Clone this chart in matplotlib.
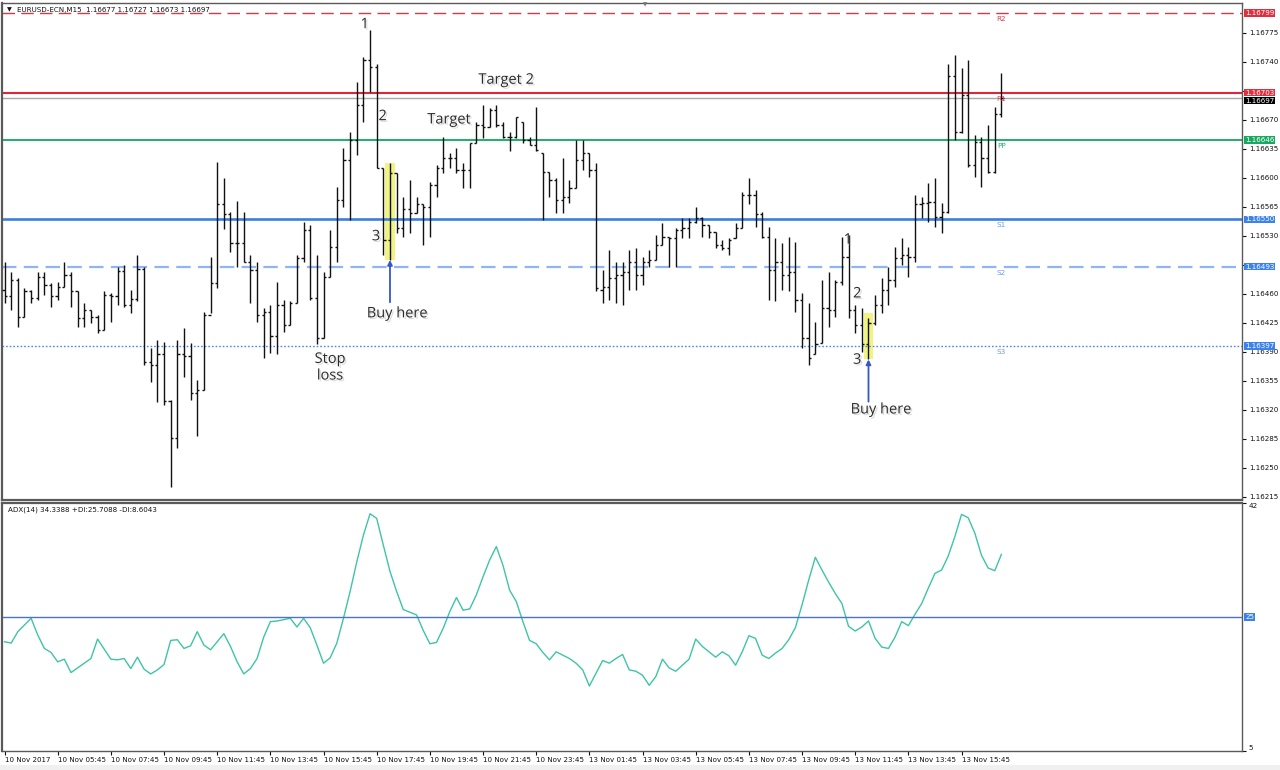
import numpy as np
import matplotlib.pyplot as plt
import matplotlib.patheffects as pe
from matplotlib.patches import Rectangle

# EURUSD M15 bars (10 Nov 2017 03:45 .. 13 Nov 17:15)
bar_open = [
    1.16465, 1.16457, 1.16477, 1.16432, 1.16463, 1.16455, 1.16481, 1.16471, 1.16458, 1.16469,
    1.16483, 1.16463, 1.16431, 1.16441, 1.16432, 1.16417, 1.16459, 1.16458, 1.16488, 1.16447,
    1.16454, 1.16490, 1.16378, 1.16374, 1.16387, 1.16331, 1.16286, 1.16387, 1.16385, 1.16341,
    1.16344, 1.16435, 1.16473, 1.16568, 1.16556, 1.16522, 1.16522, 1.16499, 1.16489, 1.16435,
    1.16438, 1.16409, 1.16447, 1.16423, 1.16449, 1.16504, 1.16537, 1.16455, 1.16407, 1.16481,
    1.16517, 1.16574, 1.16622, 1.16646, 1.16688, 1.16743, 1.16734, 1.16612, 1.16525, 1.16606,
    1.16540, 1.16562, 1.16558, 1.16568, 1.16565, 1.16592, 1.16612, 1.16624, 1.16624, 1.16610,
    1.16610, 1.16642, 1.16664, 1.16662, 1.16682, 1.16664, 1.16650, 1.16650, 1.16668, 1.16646,
    1.16640, 1.16630, 1.16607, 1.16598, 1.16574, 1.16577, 1.16588, 1.16622, 1.16630, 1.16610,
    1.16465, 1.16469, 1.16479, 1.16483, 1.16487, 1.16499, 1.16483, 1.16499, 1.16501, 1.16519,
    1.16529, 1.16528, 1.16537, 1.16540, 1.16547, 1.16552, 1.16543, 1.16535, 1.16519, 1.16516,
    1.16528, 1.16540, 1.16580, 1.16580, 1.16556, 1.16529, 1.16489, 1.16499, 1.16483, 1.16487,
    1.16453, 1.16407, 1.16387, 1.16401, 1.16443, 1.16441, 1.16475, 1.16505, 1.16441, 1.16423,
    1.16399, 1.16425, 1.16447, 1.16465, 1.16477, 1.16504, 1.16507, 1.16505, 1.16568, 1.16570,
    1.16571, 1.16553, 1.16559, 1.16723, 1.16656, 1.16700, 1.16616, 1.16644, 1.16624, 1.16607,
    1.16677,
]
bar_high = [
    1.16498, 1.16486, 1.16479, 1.16467, 1.16465, 1.16486, 1.16487, 1.16473, 1.16475, 1.16498,
    1.16486, 1.16463, 1.16449, 1.16441, 1.16435, 1.16463, 1.16461, 1.16493, 1.16495, 1.16465,
    1.16507, 1.16492, 1.16395, 1.16405, 1.16402, 1.16332, 1.16405, 1.16419, 1.16401, 1.16356,
    1.16438, 1.16505, 1.16619, 1.16600, 1.16559, 1.16572, 1.16559, 1.16507, 1.16498, 1.16443,
    1.16447, 1.16475, 1.16453, 1.16451, 1.16507, 1.16547, 1.16543, 1.16507, 1.16487, 1.16537,
    1.16589, 1.16636, 1.16656, 1.16716, 1.16746, 1.16779, 1.16737, 1.16612, 1.16618, 1.16606,
    1.16577, 1.16598, 1.16577, 1.16568, 1.16595, 1.16616, 1.16650, 1.16630, 1.16636, 1.16618,
    1.16642, 1.16667, 1.16688, 1.16685, 1.16688, 1.16668, 1.16656, 1.16674, 1.16668, 1.16650,
    1.16686, 1.16630, 1.16607, 1.16600, 1.16624, 1.16598, 1.16646, 1.16646, 1.16630, 1.16618,
    1.16489, 1.16513, 1.16498, 1.16499, 1.16513, 1.16516, 1.16505, 1.16513, 1.16531, 1.16546,
    1.16529, 1.16540, 1.16552, 1.16552, 1.16565, 1.16553, 1.16543, 1.16535, 1.16525, 1.16528,
    1.16546, 1.16583, 1.16600, 1.16586, 1.16559, 1.16541, 1.16528, 1.16522, 1.16529, 1.16523,
    1.16461, 1.16449, 1.16426, 1.16477, 1.16487, 1.16477, 1.16529, 1.16531, 1.16447, 1.16443,
    1.16431, 1.16459, 1.16479, 1.16492, 1.16517, 1.16528, 1.16517, 1.16580, 1.16577, 1.16594,
    1.16600, 1.16570, 1.16737, 1.16749, 1.16733, 1.16743, 1.16652, 1.16650, 1.16664, 1.16686,
    1.16727,
]
bar_low = [
    1.16449, 1.16441, 1.16420, 1.16432, 1.16449, 1.16453, 1.16459, 1.16444, 1.16453, 1.16469,
    1.16444, 1.16420, 1.16420, 1.16425, 1.16413, 1.16417, 1.16426, 1.16447, 1.16444, 1.16437,
    1.16451, 1.16374, 1.16354, 1.16330, 1.16326, 1.16227, 1.16274, 1.16360, 1.16332, 1.16288,
    1.16344, 1.16437, 1.16467, 1.16539, 1.16511, 1.16492, 1.16499, 1.16449, 1.16426, 1.16383,
    1.16389, 1.16387, 1.16414, 1.16423, 1.16449, 1.16498, 1.16453, 1.16399, 1.16407, 1.16481,
    1.16499, 1.16565, 1.16549, 1.16628, 1.16667, 1.16704, 1.16612, 1.16507, 1.16501, 1.16534,
    1.16529, 1.16534, 1.16558, 1.16519, 1.16529, 1.16577, 1.16606, 1.16612, 1.16606, 1.16588,
    1.16588, 1.16642, 1.16648, 1.16662, 1.16662, 1.16648, 1.16632, 1.16648, 1.16642, 1.16640,
    1.16632, 1.16549, 1.16577, 1.16558, 1.16558, 1.16570, 1.16588, 1.16610, 1.16601, 1.16463,
    1.16449, 1.16453, 1.16449, 1.16447, 1.16465, 1.16465, 1.16471, 1.16493, 1.16501, 1.16519,
    1.16493, 1.16492, 1.16528, 1.16528, 1.16546, 1.16529, 1.16528, 1.16516, 1.16513, 1.16507,
    1.16528, 1.16540, 1.16568, 1.16541, 1.16528, 1.16453, 1.16451, 1.16465, 1.16463, 1.16438,
    1.16395, 1.16374, 1.16387, 1.16401, 1.16420, 1.16432, 1.16471, 1.16431, 1.16413, 1.16390,
    1.16381, 1.16423, 1.16437, 1.16447, 1.16469, 1.16495, 1.16481, 1.16499, 1.16552, 1.16547,
    1.16541, 1.16534, 1.16558, 1.16646, 1.16654, 1.16613, 1.16601, 1.16589, 1.16606, 1.16606,
    1.16673,
]
bar_close = [
    1.16457, 1.16477, 1.16432, 1.16463, 1.16455, 1.16481, 1.16471, 1.16458, 1.16469, 1.16483,
    1.16464, 1.16431, 1.16441, 1.16432, 1.16417, 1.16459, 1.16458, 1.16488, 1.16447, 1.16454,
    1.16490, 1.16378, 1.16374, 1.16387, 1.16331, 1.16286, 1.16387, 1.16385, 1.16341, 1.16344,
    1.16435, 1.16473, 1.16568, 1.16556, 1.16522, 1.16522, 1.16499, 1.16489, 1.16435, 1.16438,
    1.16409, 1.16447, 1.16423, 1.16449, 1.16504, 1.16537, 1.16455, 1.16407, 1.16481, 1.16517,
    1.16574, 1.16622, 1.16646, 1.16688, 1.16743, 1.16734, 1.16612, 1.16525, 1.16606, 1.16540,
    1.16562, 1.16558, 1.16568, 1.16565, 1.16592, 1.16612, 1.16624, 1.16624, 1.16610, 1.16610,
    1.16642, 1.16664, 1.16662, 1.16682, 1.16664, 1.16650, 1.16650, 1.16673, 1.16646, 1.16640,
    1.16634, 1.16607, 1.16598, 1.16574, 1.16577, 1.16588, 1.16622, 1.16630, 1.16610, 1.16467,
    1.16469, 1.16479, 1.16483, 1.16487, 1.16499, 1.16483, 1.16499, 1.16501, 1.16519, 1.16529,
    1.16528, 1.16537, 1.16540, 1.16547, 1.16552, 1.16543, 1.16535, 1.16519, 1.16516, 1.16525,
    1.16540, 1.16580, 1.16580, 1.16556, 1.16529, 1.16489, 1.16499, 1.16483, 1.16487, 1.16453,
    1.16407, 1.16383, 1.16399, 1.16443, 1.16441, 1.16475, 1.16505, 1.16441, 1.16423, 1.16399,
    1.16425, 1.16447, 1.16465, 1.16477, 1.16504, 1.16507, 1.16505, 1.16568, 1.16570, 1.16571,
    1.16553, 1.16559, 1.16723, 1.16656, 1.16700, 1.16616, 1.16644, 1.16624, 1.16607, 1.16677,
    1.16697,
]
adx = [
    21.3, 21.1, 22.8, 23.8, 24.8, 22.3, 20.3, 19.7, 18.3, 18.7,
    16.7, 17.4, 18.1, 18.8, 21.7, 20.2, 18.7, 18.6, 18.8, 17.3,
    19.0, 17.2, 16.5, 17.1, 17.9, 21.5, 21.6, 20.3, 20.7, 22.8,
    20.8, 20.1, 21.3, 22.5, 20.6, 18.3, 16.5, 17.3, 18.8, 22.0,
    24.3, 24.4, 24.6, 24.8, 23.5, 24.8, 23.4, 20.8, 18.1, 18.9,
    21.1, 24.8, 28.8, 33.2, 37.2, 40.4, 39.7, 35.7, 31.8, 28.8,
    26.1, 25.7, 25.3, 23.0, 21.0, 21.2, 23.3, 25.8, 27.9, 26.0,
    26.2, 28.3, 31.0, 33.5, 35.5, 32.7, 29.0, 27.3, 24.3, 21.5,
    21.0, 19.7, 18.6, 19.8, 19.3, 18.8, 18.1, 17.1, 14.7, 16.6,
    18.5, 18.1, 18.8, 19.4, 17.1, 16.9, 16.3, 14.8, 16.1, 18.7,
    17.4, 16.9, 17.8, 18.7, 21.7, 20.6, 19.8, 19.0, 19.8, 19.2,
    17.8, 19.8, 22.2, 21.8, 19.3, 18.8, 19.6, 20.3, 21.6, 23.4,
    26.8, 30.5, 33.9, 32.0, 30.2, 28.5, 27.0, 23.6, 22.9, 23.5,
    24.4, 21.8, 20.5, 20.3, 22.0, 24.3, 23.7, 25.4, 27.0, 29.3,
    31.5, 32.0, 34.1, 37.0, 40.3, 39.8, 37.5, 34.2, 32.3, 31.9,
    34.34,
]

time_labels = ['10 Nov 2017', '10 Nov 05:45', '10 Nov 07:45', '10 Nov 09:45', '10 Nov 11:45',
               '10 Nov 13:45', '10 Nov 15:45', '10 Nov 17:45', '10 Nov 19:45', '10 Nov 21:45',
               '10 Nov 23:45', '13 Nov 01:45', '13 Nov 03:45', '13 Nov 05:45', '13 Nov 07:45',
               '13 Nov 09:45', '13 Nov 11:45', '13 Nov 13:45', '13 Nov 15:45']
price_ticks = [1.16215, 1.16250, 1.16285, 1.16320, 1.16355, 1.16390, 1.16425, 1.16460, 1.16495,
               1.16530, 1.16565, 1.16600, 1.16635, 1.16670, 1.16705, 1.16740, 1.16775]

pivot_names = ['R2', 'R1', 'PP', 'S1', 'S2', 'S3']
pivot_values = [1.16799, 1.16703, 1.16646, 1.16550, 1.16493, 1.16397]
last_price = 1.16697
adx_level = 25

n = len(bar_close)
x = np.arange(n)

small = dict(family='DejaVu Sans', fontsize=5.1, color='#111111')
note = dict(family='Open Sans', fontsize=10.5, color='#2b2b2b',
            path_effects=[pe.SimplePatchShadow(offset=(1.2, -1.2), shadow_rgbFace='#9a9a9a', alpha=0.35),
                          pe.Normal()])

fig = plt.figure(figsize=(12.8, 7.7), dpi=100, facecolor='white')
ax1 = fig.add_axes([2/1280, 1 - 500/770, 1240/1280, 497/770])
ax2 = fig.add_axes([2/1280, 1 - 751/770, 1240/1280, 248/770], sharex=ax1)
fig.patches.append(Rectangle((0, 0), 1, 5/770, transform=fig.transFigure, fc='#f0f0f0', ec='none'))

for ax in (ax1, ax2):
    for s in ax.spines.values():
        s.set_color('#5a5a5a')
        s.set_linewidth(1.0)
    ax.spines['left'].set_linewidth(1.6)
ax1.spines['bottom'].set_linewidth(1.6)
ax2.spines['top'].set_linewidth(1.6)

# price bars
ax1.vlines(x, bar_low, bar_high, color='#111111', lw=1.0, zorder=3)
ax1.hlines(bar_open, x - 0.33, x, color='#111111', lw=1.0, zorder=3)
ax1.hlines(bar_close, x, x + 0.33, color='#111111', lw=1.0, zorder=3)

# pivot levels
pivot_colors = ['#d23c4a', '#d9283a', '#1fae6c', '#3a7fdc', '#8fb5f5', '#4f86ea']
pivot_styles = [(0, (9, 4.5)), '-', '-', '-', (0, (6.5, 3.3)), (0, (1.2, 1.4))]
pivot_widths = [1.0, 1.5, 1.4, 1.9, 1.6, 1.0]
text_colors = ['#d94050', '#d94050', '#22aa77', '#6a9be8', '#6a9be8', '#6a9be8']
box_colors = ['#e0303f', '#e0303f', '#17a862', '#3b82ee', '#3b82ee', '#3b82ee']

ax1.axhline(last_price, color='#a8a8a8', lw=1.0, zorder=2)
ax1.annotate(f'{last_price:.5f}', (1.0025, last_price), xycoords=ax1.get_yaxis_transform(),
             xytext=(0, -3), textcoords='offset pixels', va='center', ha='left',
             family='DejaVu Sans', fontsize=5.1, color='white', annotation_clip=False, zorder=5,
             bbox=dict(boxstyle='square,pad=0.12', fc='black', ec='none'))
for name, val, c, ls, w, tc, bc in zip(pivot_names, pivot_values, pivot_colors, pivot_styles,
                                        pivot_widths, text_colors, box_colors):
    ax1.axhline(val, color=c, ls=ls, lw=w, zorder=2)
    ax1.annotate(name, (x[-1], val), xytext=(0, -6), textcoords='offset pixels', ha='center',
                 va='center', family='DejaVu Sans', fontsize=5.2, color=tc, zorder=4)
    ax1.text(1.0025, val, f'{val:.5f}', transform=ax1.get_yaxis_transform(), va='center',
             ha='left', family='DejaVu Sans', fontsize=5.1, color='white', clip_on=False, zorder=6,
             bbox=dict(boxstyle='square,pad=0.12', fc=bc, ec='none'))

ax1.set_xlim(-0.38, 186.2)
ax1.set_ylim(1.162113, 1.168112)
ax1.yaxis.tick_right()
ax1.set_yticks(price_ticks)
# labels sitting under a level box are covered in the terminal, so leave them blank
ax1.set_yticklabels(['' if min(abs(t - v) for v in pivot_values) < 0.00004 else f'{t:.5f}'
                     for t in price_ticks])
ax1.tick_params(axis='y', length=3, width=0.8, pad=2, labelsize=5.1, colors='#111111')
for lbl in ax1.get_yticklabels():
    lbl.set_family('DejaVu Sans')
ax1.tick_params(axis='x', bottom=False, labelbottom=False)

# highlighted signal bars
for b in (58, 130):
    ax1.add_patch(Rectangle((b - 0.75, bar_low[b]), 1.5, bar_high[b] - bar_low[b] + 0.00006 * (b == 130),
                            fc='#f1f16a', ec='none', alpha=0.85, zorder=1))

arrow = dict(arrowstyle='-|>', color='#3558c8', lw=1.3, mutation_scale=7, shrinkA=0, shrinkB=0)
ax1.annotate('', xy=(58, bar_low[58]), xytext=(58, 1.16450), arrowprops=arrow, zorder=4)
ax1.annotate('', xy=(130, bar_low[130]), xytext=(130, 1.16330), arrowprops=arrow, zorder=4)

ax1.text(54.2, 1.16785, '1', ha='center', va='center', **note)
ax1.text(56.9, 1.16674, '2', ha='center', va='center', **note)
ax1.text(55.9, 1.16529, '3', ha='center', va='center', **note)
ax1.text(66.9, 1.16670, 'Target', ha='center', va='center', **note)
ax1.text(75.5, 1.16718, 'Target 2', ha='center', va='center', **note)
ax1.text(49.0, 1.16371, 'Stop\nloss', ha='center', va='center', linespacing=1.15, **note)
ax1.text(59.1, 1.16436, 'Buy here', ha='center', va='center', **note)
ax1.text(126.9, 1.16525, '1', ha='center', va='center', **note)
ax1.text(128.3, 1.16460, '2', ha='center', va='center', **note)
ax1.text(128.3, 1.16380, '3', ha='center', va='center', **note)
ax1.text(131.9, 1.16320, 'Buy here', ha='center', va='center', **note)

fig.text(9/1280, 1 - 10/770, '\u25bc', ha='center', va='center', family='DejaVu Sans',
         fontsize=4.5, color='#111111')
fig.text(17/1280, 1 - 10/770, 'EURUSD-ECN,M15  1.16677 1.16727 1.16673 1.16697',
         ha='left', va='center', **small)
fig.text(645/1280, 1 - 5/770, '\u25bc', ha='center', va='center', family='DejaVu Sans',
         fontsize=4, color='#777777')

# ADX panel
ax2.plot(x, adx, color='#3fc4a6', lw=1.0)
ax2.axhline(adx_level, color='#4a72d6', lw=1.0)
ax2.set_ylim(5, 42)
ax2.yaxis.tick_right()
ax2.set_yticks([5, 42])
ax2.set_yticklabels(['5', '42'])
ax2.tick_params(axis='y', length=3, width=0.8, pad=2, labelsize=5.1, colors='#111111')
yl = ax2.get_yticklabels()
yl[0].set_va('bottom')
yl[1].set_va('top')
ax2.text(1.0025, adx_level, str(adx_level), transform=ax2.get_yaxis_transform(), va='center',
         ha='left', family='DejaVu Sans', fontsize=5.1, color='white', clip_on=False,
         bbox=dict(boxstyle='square,pad=0.12', fc='#3b82ee', ec='none'))
ax2.text(6/1240, 1 - 7/248, 'ADX(14) 34.3388 +DI:25.7088 -DI:8.6043', transform=ax2.transAxes,
         ha='left', va='center', **small)

ax2.set_xticks(range(0, 8 * len(time_labels), 8))
ax2.set_xticklabels(time_labels)
ax2.tick_params(axis='x', length=3, width=0.8, pad=1.5, labelsize=5.1, colors='#111111')
for lbl in ax2.get_xticklabels():
    lbl.set_ha('left')
    lbl.set_family('DejaVu Sans')

fig.savefig('out.png', dpi=100, facecolor='white')
